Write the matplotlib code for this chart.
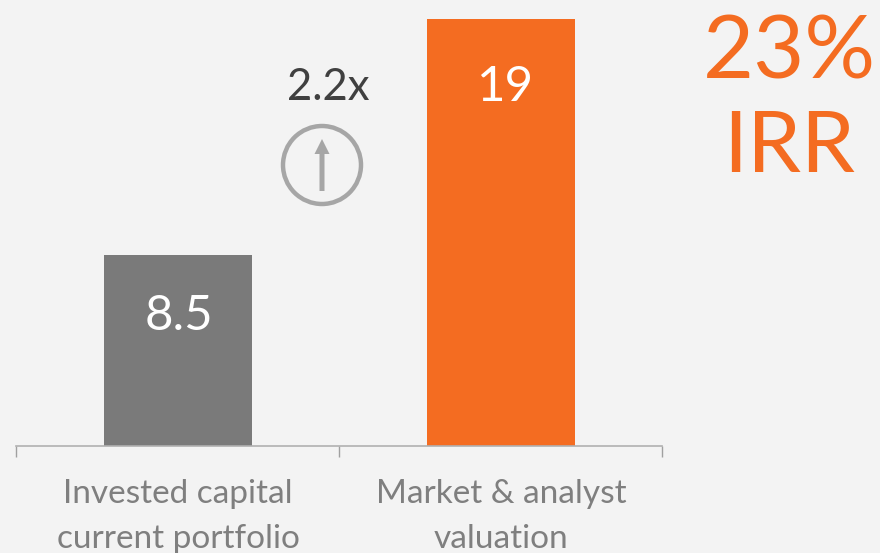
import matplotlib
matplotlib.use('Agg')
from matplotlib import pyplot as plt
from matplotlib.patches import Circle, FancyArrow

categories = ['Invested capital\ncurrent portfolio', 'Market & analyst\nvaluation']
values = [8.5, 19]
value_labels = ['8.5', '19']
bar_colors = ['#7a7a7a', '#f46c21']
multiple_label = '2.2x'
irr_value = '23%'
irr_label = 'IRR'

W, H = 880, 553
plt.rcParams['font.family'] = ['Lato', 'DejaVu Sans']

fig = plt.figure(figsize=(W / 100, H / 100), dpi=100, facecolor='#f3f3f3')

# axes spans the baseline between the outer tick marks
ax = fig.add_axes([16 / W, 1 - 445.5 / H, (662 - 16) / W, (445.5 - 19) / H], facecolor='none')
x = [0, 1]
ax.bar(x, values, width=148 / 323, color=bar_colors)
ax.set_xlim(-0.5, 1.5)
ax.set_ylim(0, 19)
ax.set_yticks([])
ax.set_xticks([-0.5, 0.5, 1.5])
ax.set_xticklabels([])
ax.tick_params(axis='x', direction='out', length=8, width=1, color='#a0a0a0')
for name in ['top', 'left', 'right']:
    ax.spines[name].set_visible(False)
ax.spines['bottom'].set_color('#b0b0b0')
ax.spines['bottom'].set_linewidth(1.2)

# category names, one line at a time to hold the wide line pitch
line_y = [494, 539]
for i, label in enumerate(categories):
    for line, y in zip(label.split('\n'), line_y):
        fig.text((178 + 323 * i) / W, 1 - y / H, line, ha='center', va='center',
                 fontsize=24, color='#7f7f7f')

# value labels sit at a fixed height inside each bar
fig.text(179 / W, 1 - 316 / H, value_labels[0], ha='center', va='center', fontsize=35.5, color='white')
fig.text(506 / W, 1 - 87 / H, value_labels[1], ha='center', va='center', fontsize=35.5, color='white')

fig.text(328.5 / W, 1 - 87 / H, multiple_label, ha='center', va='center', fontsize=31.5, color='#404040')
fig.text(789 / W, 1 - 54 / H, irr_value, ha='center', va='center', fontsize=63.5, color='#f46c21')
fig.text(789 / W, 1 - 148 / H, irr_label, ha='center', va='center', fontsize=62, color='#f46c21')

# circled arrow between the bars, drawn in pixel coordinates
overlay = fig.add_axes([0, 0, 1, 1], facecolor='none')
overlay.set_xlim(0, W)
overlay.set_ylim(H, 0)
overlay.axis('off')
overlay.add_patch(Circle((322, 165), 39, fill=False, edgecolor='#a6a6a6', linewidth=3.2))
overlay.add_patch(FancyArrow(322, 191, 0, -52, width=5, head_width=15, head_length=15,
                             length_includes_head=True, color='#a6a6a6', linewidth=0))

fig.savefig('out.png', dpi=100, facecolor=fig.get_facecolor())
